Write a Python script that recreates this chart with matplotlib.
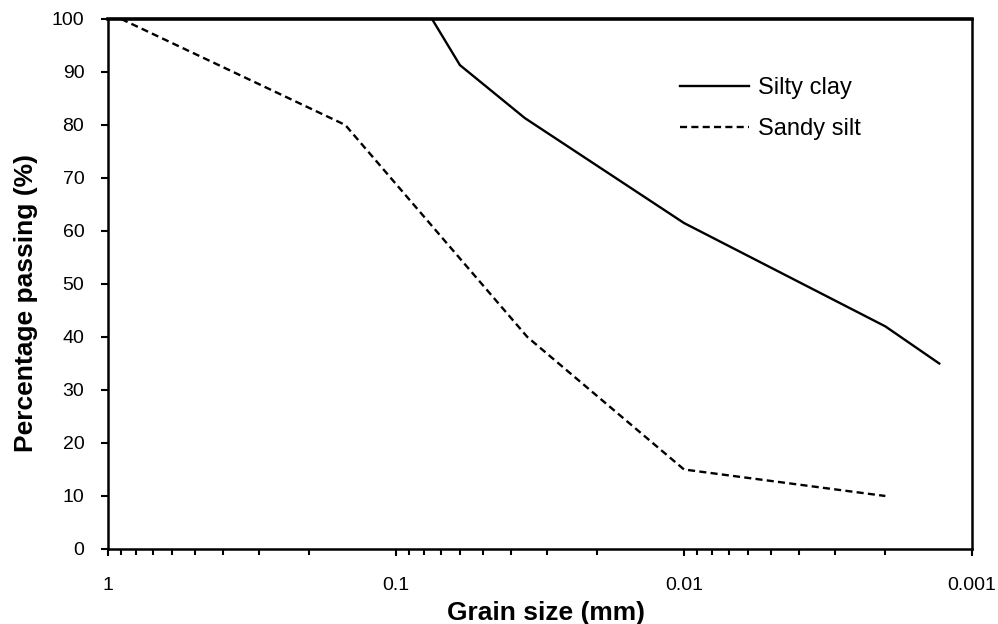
import numpy as np
import matplotlib.pyplot as plt
from matplotlib.ticker import LogLocator, FixedLocator, NullFormatter

plt.rcParams['font.family'] = ['Liberation Sans', 'DejaVu Sans']

# Grain size distribution curves (grain size in mm, percentage passing)
clay_size = [0.075, 0.060, 0.0357, 0.0100, 0.0020, 0.0013]
clay_pass = [100, 91.3, 81.3, 61.5, 42, 35]

silt_size = [0.90, 0.15, 0.035, 0.010, 0.0020]
silt_pass = [100, 80, 40, 15, 10]

x_ticks = [1, 0.1, 0.01, 0.001]
x_tick_labels = ['1', '0.1', '0.01', '0.001']

fig = plt.figure(figsize=(9.98, 6.24), dpi=100)
ax = fig.add_axes([0.1082, 0.1202, 0.8658, 0.8494])

ax.plot(clay_size, clay_pass, color='black', lw=1.7, label='Silty clay')
ax.plot(silt_size, silt_pass, color='black', lw=1.7, linestyle=(0, (3, 1.8)),
        label='Sandy silt')

ax.set_xscale('log')
ax.set_xlim(1, 0.001)
ax.set_ylim(0, 100)
ax.xaxis.set_major_locator(FixedLocator(x_ticks))
ax.set_xticklabels(x_tick_labels)
ax.xaxis.set_minor_locator(LogLocator(base=10, subs=np.arange(2, 10)))
ax.xaxis.set_minor_formatter(NullFormatter())
ax.set_yticks(np.arange(0, 101, 10))

ax.tick_params(axis='both', which='major', direction='out', length=5, width=1.5,
               labelsize=14)
ax.tick_params(axis='x', which='major', pad=15)
ax.tick_params(axis='y', which='major', pad=12)
ax.tick_params(axis='x', which='minor', direction='out', length=4, width=1.5)
for side in ['left', 'bottom', 'right']:
    ax.spines[side].set_linewidth(1.8)
ax.spines['top'].set_linewidth(2.6)

ax.set_xlabel('Grain size (mm)', fontsize=19, fontweight='bold')
ax.set_ylabel('Percentage passing (%)', fontsize=19, fontweight='bold')
ax.xaxis.set_label_coords(0.507, -0.098)
ax.yaxis.set_label_coords(-0.081, 0.464)

ax.legend(loc='upper left', bbox_to_anchor=(0.6377, 0.931), frameon=False,
          fontsize=17, handlelength=2.9, handletextpad=0.4, labelspacing=0.83)

fig.savefig('out.png', dpi=100)
